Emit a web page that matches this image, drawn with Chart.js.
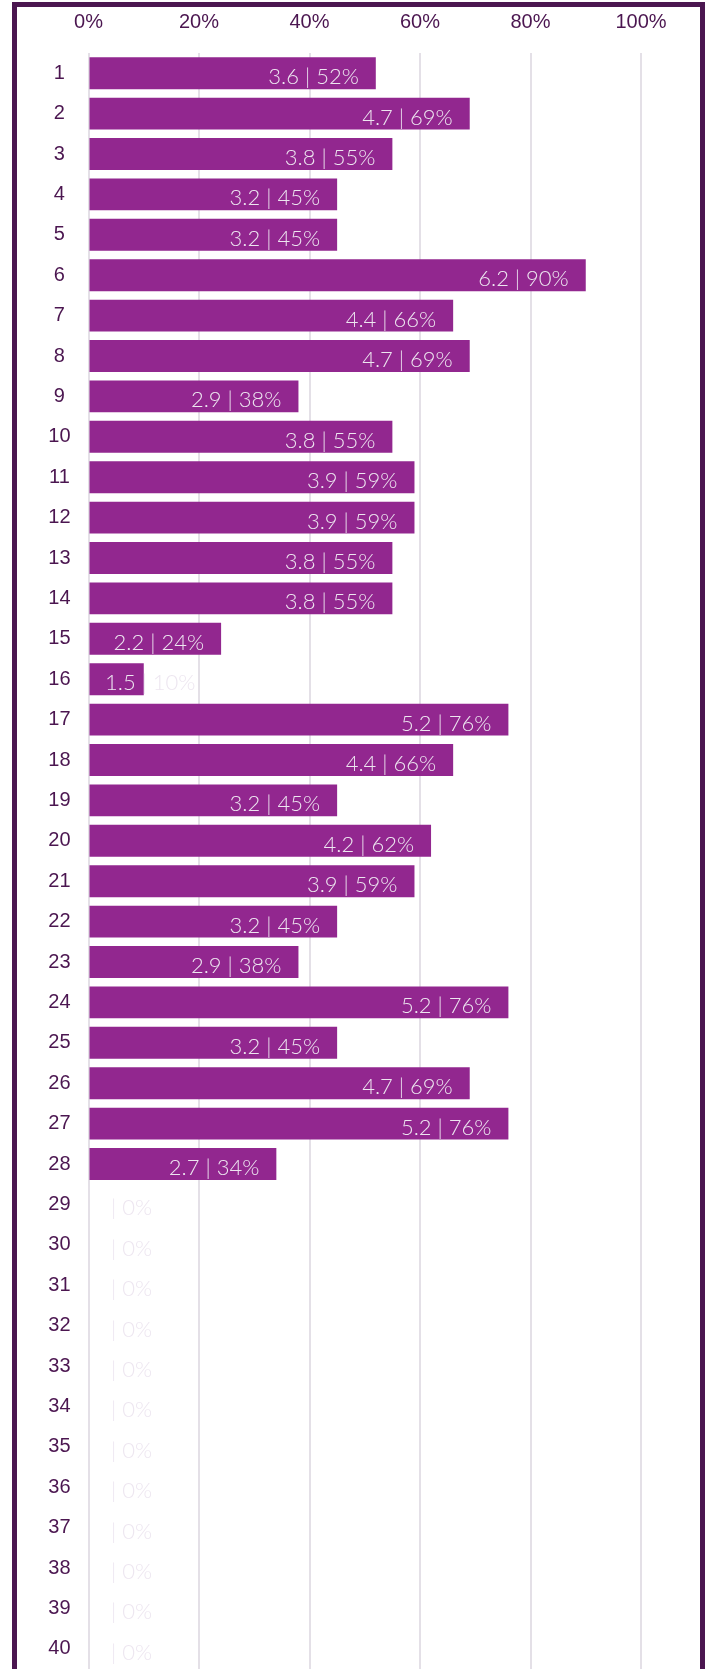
<!DOCTYPE html>
<html>
<head>
<meta charset="utf-8">
<script src="https://cdn.jsdelivr.net/npm/chart.js@4/dist/chart.umd.min.js"></script>
<style>
    html, body { margin: 0; padding: 0; background: #ffffff; overflow: hidden; }
    #wrap { position: relative; width: 710px; height: 1669px; }
    canvas { display: block; }
    #frame {
        position: absolute; left: 12px; top: 2px; width: 683px; height: 1700px;
        border: 5px solid #4b1650; border-bottom: none; pointer-events: none;
    }
</style>
</head>
<body>
<div id="wrap">
    <canvas id="chart" width="710" height="1669"></canvas>
    <div id="frame"></div>
</div>
<script>
// rows 1..40
const categories = [];
for (let i = 1; i <= 40; i++) categories.push(String(i));

// percentage per row (bar length)
const percentValues = [52, 69, 55, 45, 45, 90, 66, 69, 38, 55,
                       59, 59, 55, 55, 24, 10, 76, 66, 45, 62,
                       59, 45, 38, 76, 45, 69, 76, 34, 0, 0,
                       0, 0, 0, 0, 0, 0, 0, 0, 0, 0];

// score shown before the bar in the label
const scoreValues = [3.6, 4.7, 3.8, 3.2, 3.2, 6.2, 4.4, 4.7, 2.9, 3.8,
                     3.9, 3.9, 3.8, 3.8, 2.2, 1.5, 5.2, 4.4, 3.2, 4.2,
                     3.9, 3.2, 2.9, 5.2, 3.2, 4.7, 5.2, 2.7, null, null,
                     null, null, null, null, null, null, null, null, null, null];

const xTicks = [0, 20, 40, 60, 80, 100];

const purple = '#92278f';
const darkPurple = '#4b1650';
const labelColour = '#ede6f0';
const gridColour = '#e4e0e7';

// draws "score | pct%" at the end of each bar, clamped to the left
const barLabels = {
    id: 'barLabels',
    afterDatasetsDraw(chart) {
        const ctx = chart.ctx;
        const meta = chart.getDatasetMeta(0);
        const x0 = chart.scales.x.getPixelForValue(0);
        ctx.save();
        ctx.font = '300 22px Lato, "Open Sans", sans-serif';
        ctx.fillStyle = labelColour;
        ctx.textAlign = 'left';
        ctx.textBaseline = 'alphabetic';
        meta.data.forEach((bar, i) => {
            const score = scoreValues[i] === null ? '' : scoreValues[i].toFixed(1);
            const text = score + ' | ' + percentValues[i] + '%';
            const w = ctx.measureText(text).width;
            const start = Math.max(bar.x - 17 - w, x0 + 16.5);
            ctx.fillText(text, start, bar.y + 11);
        });
        ctx.restore();
    }
};

const chart = new Chart(document.getElementById('chart'), {
    type: 'bar',
    data: {
        labels: categories,
        datasets: [{
            data: percentValues,
            backgroundColor: purple,
            borderWidth: 0,
            barPercentage: 0.79,
            categoryPercentage: 1.0
        }]
    },
    options: {
        indexAxis: 'y',
        responsive: false,
        animation: false,
        devicePixelRatio: 1,
        layout: { padding: { left: 0, right: 69, top: 0, bottom: 0 } },
        plugins: {
            legend: { display: false },
            tooltip: { enabled: false }
        },
        scales: {
            x: {
                position: 'top',
                min: 0,
                max: 100,
                afterBuildTicks: s => { s.ticks = xTicks.map(v => ({ value: v })); },
                afterFit: s => { s.height = 53; s.paddingLeft = 0; s.paddingRight = 0; },
                grid: { color: gridColour, lineWidth: 2, drawTicks: false },
                border: { display: false },
                ticks: {
                    padding: 19,
                    color: darkPurple,
                    font: { family: '"Liberation Sans", Arial, sans-serif', size: 20 },
                    callback: v => v + '%'
                }
            },
            y: {
                afterFit: s => { s.width = 88.5; s.paddingTop = 0; s.paddingBottom = 0; },
                grid: { display: false, drawTicks: false },
                border: { display: false },
                ticks: {
                    padding: 18,
                    crossAlign: 'center',
                    color: darkPurple,
                    font: { family: '"Liberation Sans", Arial, sans-serif', size: 20 }
                }
            }
        }
    },
    plugins: [barLabels]
});
</script>
</body>
</html>
